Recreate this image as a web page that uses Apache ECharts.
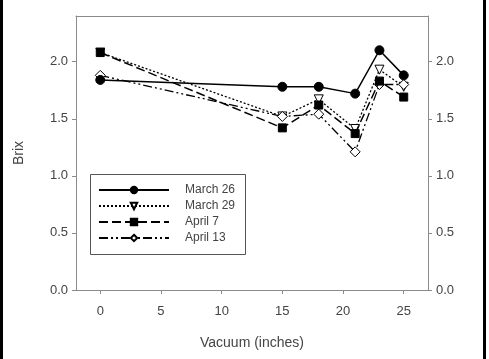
<!DOCTYPE html>
<html><head><meta charset="utf-8">
<script src="https://cdn.jsdelivr.net/npm/echarts@6/dist/echarts.min.js"></script>
<style>html,body{margin:0;padding:0;background:#fff}#c{width:489px;height:359px}</style>
</head><body><div id="c"></div>
<script>
const vacuum = [0, 15, 18, 21, 23, 25];
const march26 = [1.84, 1.78, 1.78, 1.72, 2.10, 1.88];
const march29 = [2.08, 1.52, 1.67, 1.41, 1.93, 1.78];
const april7  = [2.08, 1.42, 1.62, 1.37, 1.83, 1.69];
const april13 = [1.88, 1.52, 1.54, 1.21, 1.80, 1.80];
const seriesNames = ['March 26', 'March 29', 'April 7', 'April 13'];
const xTicks = [0, 5, 10, 15, 20, 25];
const yTicks = [0, 0.5, 1.0, 1.5, 2.0];

const axisColor = '#8a8a8a';
const textColor = '#444';
const font = 'Liberation Sans, Arial, sans-serif';
function pts(v){ return vacuum.map((x,i)=>[x, v[i]]); }

const chart = echarts.init(document.getElementById('c'), null, {renderer:'canvas'});
const base = {type:'line', lineStyle:{color:'#000', width:1.5}, itemStyle:{color:'#000', borderColor:'#000', borderWidth:1}, emphasis:{disabled:true}, animation:false};
chart.setOption({
  animation:false,
  grid:{left:76, right:61, top:16, bottom:69},
  xAxis:[{
    type:'value', min:-2, max:27, position:'bottom',
    name:'Vacuum (inches)', nameLocation:'middle', nameGap:46,
    nameTextStyle:{color:textColor, fontSize:14, fontFamily:font},
    axisLine:{show:true, onZero:false, lineStyle:{color:axisColor, width:1}},
    axisTick:{show:true, length:4, inside:false, customValues:xTicks, lineStyle:{color:axisColor}},
    axisLabel:{customValues:xTicks, color:textColor, fontSize:13, fontFamily:font, margin:15},
    splitLine:{show:false}
  },{
    type:'value', min:-2, max:27, position:'top',
    axisLine:{show:true, onZero:false, lineStyle:{color:axisColor, width:1}},
    axisTick:{show:false}, axisLabel:{show:false}, splitLine:{show:false}
  }],
  yAxis:[{
    type:'value', min:0, max:2.4, position:'left',
    name:'Brix', nameLocation:'middle', nameGap:50,
    nameTextStyle:{color:textColor, fontSize:14, fontFamily:font},
    axisLine:{show:true, onZero:false, lineStyle:{color:axisColor, width:1}},
    axisTick:{show:true, length:4, customValues:yTicks, lineStyle:{color:axisColor}},
    axisLabel:{customValues:yTicks, color:textColor, fontSize:13, fontFamily:font, margin:8, formatter:v=>v.toFixed(1)},
    splitLine:{show:false}
  },{
    type:'value', min:0, max:2.4, position:'right',
    axisLine:{show:true, onZero:false, lineStyle:{color:axisColor, width:1}},
    axisTick:{show:true, length:4, customValues:yTicks, lineStyle:{color:axisColor}},
    axisLabel:{customValues:yTicks, color:textColor, fontSize:13, fontFamily:font, margin:8, formatter:v=>v.toFixed(1)},
    splitLine:{show:false}
  }],
  legend:{
    orient:'vertical', left:98, top:183, itemWidth:70, itemHeight:8, itemGap:2,
    padding:0,
    textStyle:{color:textColor, fontSize:12, fontFamily:font, padding:[0,0,0,11], lineHeight:14},
    data:seriesNames
  },
  graphic:[
    {type:'rect', shape:{x:90.5, y:174.5, width:155, height:80}, style:{fill:null, stroke:'#555', lineWidth:1}, z:100},
    {type:'rect', shape:{x:0, y:0, width:3, height:359}, style:{fill:'#000'}},
    {type:'rect', shape:{x:483, y:0, width:3, height:359}, style:{fill:'#000'}}
  ],
  series:[
    Object.assign({}, base, {name:seriesNames[0], data:pts(march26), symbol:'circle', symbolSize:9, z:5}),
    Object.assign({}, base, {name:seriesNames[1], data:pts(march29), symbol:'triangle', symbolRotate:180, symbolSize:9,
      lineStyle:{color:'#000', width:1.3, type:[2,2]}, itemStyle:{color:'#fff', borderColor:'#000', borderWidth:1}, z:3}),
    Object.assign({}, base, {name:seriesNames[2], data:pts(april7), symbol:'rect', symbolSize:8,
      lineStyle:{color:'#000', width:1.5, type:[9,4]}, z:4}),
    Object.assign({}, base, {name:seriesNames[3], data:pts(april13), symbol:'diamond', symbolSize:10,
      lineStyle:{color:'#000', width:1.3, type:[9,3,2,3,2,3]}, itemStyle:{color:'#fff', borderColor:'#000', borderWidth:1}, z:3})
  ]
});
</script></body></html>
